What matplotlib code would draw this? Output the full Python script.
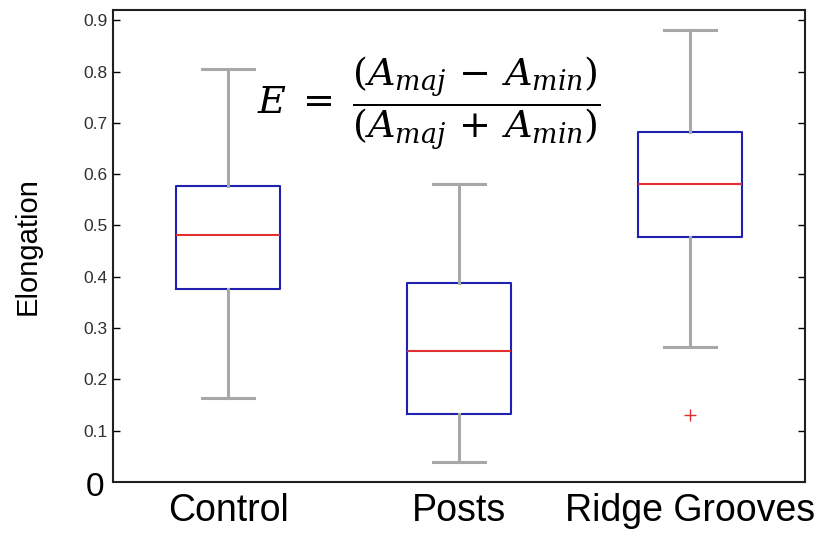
import matplotlib
matplotlib.use("Agg")
import matplotlib.pyplot as plt

# group labels and box statistics
groups = ["Control", "Posts", "Ridge Grooves"]
whislo = [0.164, 0.039, 0.264]
q1 = [0.377, 0.133, 0.477]
med = [0.482, 0.256, 0.580]
q3 = [0.576, 0.387, 0.682]
whishi = [0.805, 0.580, 0.881]
outliers = [[], [], [0.131]]

yticks = [0.1, 0.2, 0.3, 0.4, 0.5, 0.6, 0.7, 0.8, 0.9]

plt.rcParams['font.family'] = ['Liberation Sans', 'DejaVu Sans']
plt.rcParams['mathtext.fontset'] = 'dejavuserif'

fig = plt.figure(figsize=(8.29, 5.33), dpi=100)
ax = fig.add_axes([0.1363, 0.0957, 0.8347, 0.8855])

stats = []
for i in range(len(groups)):
    stats.append({'label': groups[i], 'whislo': whislo[i], 'q1': q1[i], 'med': med[i],
                  'q3': q3[i], 'whishi': whishi[i], 'fliers': outliers[i]})

ax.bxp(stats, positions=[1, 2, 3], widths=0.45, showfliers=True,
       boxprops=dict(color='#2020b0', linewidth=1.5),
       medianprops=dict(color='#e03030', linewidth=1.5),
       whiskerprops=dict(color='#a8a8a8', linewidth=2.2),
       capprops=dict(color='#a8a8a8', linewidth=2.2),
       capwidths=0.225,
       flierprops=dict(marker='+', markeredgecolor='#e03030', markersize=8, linestyle='none'))

ax.set_xlim(0.5, 3.5)
ax.set_ylim(0, 0.92)
ax.set_yticks(yticks)
ax.set_yticklabels([f"{v:.1f}" for v in yticks], fontsize=12.5, color='#303030')
ax.set_xticks([1, 2, 3])
ax.set_xticklabels(groups, fontsize=27)
ax.tick_params(axis='y', direction='in', right=True, length=5, width=1, pad=4)
ax.tick_params(axis='x', length=0, pad=8)
for s in ax.spines.values():
    s.set_linewidth(1.5)
    s.set_color('#202020')

ax.set_ylabel("Elongation", fontsize=21, labelpad=30)
ax.text(-0.012, -0.012, "0", transform=ax.transAxes, ha='right', va='center', fontsize=24)

ax.text(1.87, 0.738, r"$E\;=\;\dfrac{(A_{maj}\,-\,A_{min})}{(A_{maj}\,+\,A_{min})}$",
        ha='center', va='center', fontsize=27.5)

plt.savefig("out.png", dpi=100)
